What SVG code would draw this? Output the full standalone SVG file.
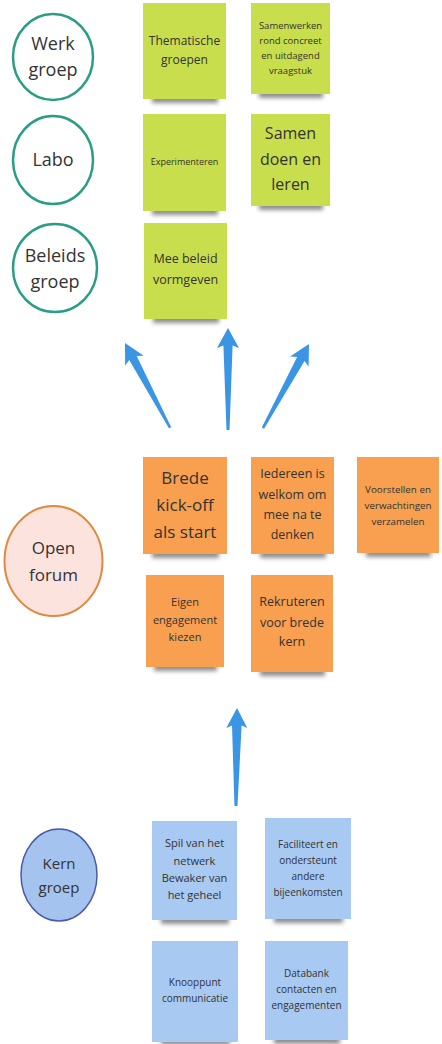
<svg xmlns="http://www.w3.org/2000/svg" width="442" height="1044" viewBox="0 0 442 1044">
<defs>
<filter id="sh" x="-20%" y="-200%" width="140%" height="500%"><feGaussianBlur stdDeviation="2"/></filter>
<style>
text{font-family:"Open Sans","DejaVu Sans",sans-serif;fill:#333;text-anchor:middle}
.shadow{fill:#333;opacity:.55;filter:url(#sh)}
.g{fill:#c9de4c}
.o{fill:#f8a04f}
.b{fill:#a8c9f1}
.c-teal{fill:#fff;stroke:#2a9d84;stroke-width:2.5}
.c-open{fill:#fde3de;stroke:#e0893f;stroke-width:2}
.c-kern{fill:#a4c4ef;stroke:#4a5aa8;stroke-width:1.5}
.arrow{fill:#3a95e4}
</style>
</defs>
<rect width="442" height="1044" fill="#fff"/>

<g id="werkgroep"><ellipse class="c-teal" cx="53" cy="57" rx="40" ry="43"/>
<text font-size="18"><tspan x="53" y="50">Werk</tspan><tspan x="53" y="76">groep</tspan></text></g>
<g id="labo"><ellipse class="c-teal" cx="53" cy="160" rx="40" ry="44"/>
<text font-size="18" x="53" y="166">Labo</text></g>
<g id="beleidsgroep"><ellipse class="c-teal" cx="55" cy="268" rx="42" ry="44"/>
<text font-size="18"><tspan x="55" y="262">Beleids</tspan><tspan x="55" y="288">groep</tspan></text></g>
<g id="openforum"><ellipse class="c-open" cx="53.5" cy="561" rx="49" ry="55"/>
<text font-size="17"><tspan x="53.5" y="554">Open</tspan><tspan x="53.5" y="581">forum</tspan></text></g>
<g id="kerngroep"><ellipse class="c-kern" cx="59" cy="875" rx="38" ry="46"/>
<text font-size="15"><tspan x="59" y="869">Kern</tspan><tspan x="59" y="893">groep</tspan></text></g>

<g id="thematische"><rect class="shadow" x="152" y="95" width="66" height="8"/><rect class="g" x="143" y="3" width="83" height="96"/>
<text font-size="12"><tspan x="184.5" y="45">Thematische</tspan><tspan x="184.5" y="64">groepen</tspan></text></g>
<g id="samenwerken"><rect class="shadow" x="259" y="90" width="64" height="8"/><rect class="g" x="251" y="3" width="79" height="91"/>
<text font-size="9.5"><tspan x="290.5" y="28.5">Samenwerken</tspan><tspan x="290.5" y="43.5">rond concreet</tspan><tspan x="290.5" y="58.5">en uitdagend</tspan><tspan x="290.5" y="73.5">vraagstuk</tspan></text></g>
<g id="experimenteren"><rect class="shadow" x="152" y="207" width="66" height="8"/><rect class="g" x="143" y="114" width="83" height="97"/>
<text font-size="9" x="184.5" y="165">Experimenteren</text></g>
<g id="samendoen"><rect class="shadow" x="259" y="202" width="64" height="8"/><rect class="g" x="251" y="114" width="79" height="92"/>
<text font-size="16"><tspan x="290.5" y="139">Samen</tspan><tspan x="290.5" y="165">doen en</tspan><tspan x="290.5" y="190">leren</tspan></text></g>
<g id="meebeleid"><rect class="shadow" x="153" y="315" width="66" height="8"/><rect class="g" x="144" y="223" width="83" height="96"/>
<text font-size="12.5"><tspan x="185.5" y="262.5">Mee beleid</tspan><tspan x="185.5" y="284">vormgeven</tspan></text></g>

<g id="brede"><rect class="shadow" x="152" y="550" width="67" height="8"/><rect class="o" x="143" y="457" width="84" height="97"/>
<text font-size="17"><tspan x="185" y="484">Brede</tspan><tspan x="185" y="511">kick-off</tspan><tspan x="185" y="538">als start</tspan></text></g>
<g id="iedereen"><rect class="shadow" x="260" y="550" width="66" height="8"/><rect class="o" x="251" y="457" width="83" height="97"/>
<text font-size="12.5"><tspan x="292.5" y="478">Iedereen is</tspan><tspan x="292.5" y="498.5">welkom om</tspan><tspan x="292.5" y="519">mee na te</tspan><tspan x="292.5" y="539">denken</tspan></text></g>
<g id="voorstellen"><rect class="shadow" x="366" y="549" width="65" height="8"/><rect class="o" x="357" y="457" width="82" height="96"/>
<text font-size="9.8"><tspan x="398" y="492.5">Voorstellen en</tspan><tspan x="398" y="508.5">verwachtingen</tspan><tspan x="398" y="524.5">verzamelen</tspan></text></g>
<g id="eigen"><rect class="shadow" x="154" y="663" width="63" height="8"/><rect class="o" x="146" y="575" width="78" height="92"/>
<text font-size="11"><tspan x="185" y="606">Eigen</tspan><tspan x="185" y="624">engagement</tspan><tspan x="185" y="641">kiezen</tspan></text></g>
<g id="rekruteren"><rect class="shadow" x="260" y="668" width="65" height="8"/><rect class="o" x="251" y="575" width="82" height="97"/>
<text font-size="12.5"><tspan x="292" y="606">Rekruteren</tspan><tspan x="292" y="627">voor brede</tspan><tspan x="292" y="646">kern</tspan></text></g>

<g id="spil"><rect class="shadow" x="161" y="916" width="68" height="8"/><rect class="b" x="152" y="821" width="85" height="99"/>
<text font-size="11"><tspan x="194.5" y="847">Spil van het</tspan><tspan x="194.5" y="865">netwerk</tspan><tspan x="194.5" y="882">Bewaker van</tspan><tspan x="194.5" y="899">het geheel</tspan></text></g>
<g id="faciliteert"><rect class="shadow" x="274" y="915" width="69" height="8"/><rect class="b" x="265" y="818" width="86" height="101"/>
<text font-size="10"><tspan x="308" y="847.5">Faciliteert en</tspan><tspan x="308" y="863.5">ondersteunt</tspan><tspan x="308" y="879.5">andere</tspan><tspan x="308" y="895.5">bijeenkomsten</tspan></text></g>
<g id="knooppunt"><rect class="shadow" x="161" y="1037" width="69" height="8"/><rect class="b" x="152" y="941" width="86" height="101"/>
<text font-size="10"><tspan x="195" y="985.5">Knooppunt</tspan><tspan x="195" y="1001.5">communicatie</tspan></text></g>
<g id="databank"><rect class="shadow" x="274" y="1036" width="66" height="8"/><rect class="b" x="265" y="941" width="83" height="99"/>
<text font-size="10"><tspan x="306.5" y="976.5">Databank</tspan><tspan x="306.5" y="992.5">contacten en</tspan><tspan x="306.5" y="1008.5">engagementen</tspan></text></g>

<g id="connectors">
<path class="arrow" transform="translate(125,343) rotate(-28)" d="M0,0 L10.5,20 L4.2,17 L1.3,96 L-1.3,96 L-4.2,17 L-10.5,20 Z"/>
<path class="arrow" transform="translate(228,328)" d="M0,0 L11,20 L4.6,17.5 L1.5,102 L-1.5,102 L-4.6,17.5 L-11,20 Z"/>
<path class="arrow" transform="translate(309,344) rotate(28.7)" d="M0,0 L10.5,20 L4.2,17 L1.3,96 L-1.3,96 L-4.2,17 L-10.5,20 Z"/>
<path class="arrow" transform="translate(237,708) rotate(0.6)" d="M0,0 L10.5,20 L4.8,17.5 L1.5,98 L-1.5,98 L-4.8,17.5 L-10.5,20 Z"/>
</g>
</svg>
